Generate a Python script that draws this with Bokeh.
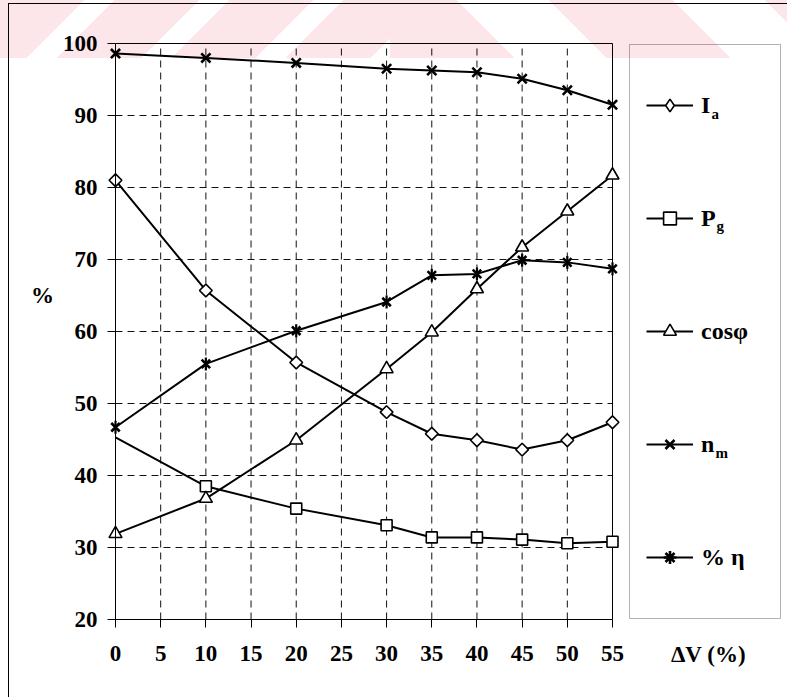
import numpy as np
from bokeh.plotting import figure
from bokeh.models import Legend, LegendItem, Label, FixedTicker, Range1d, BoxAnnotation
from bokeh.embed import file_html
from bokeh.resources import INLINE

# ---------------- data ----------------
dv = [0, 10, 20, 30, 35, 40, 45, 50, 55]
ia = [81.0, 65.7, 55.7, 48.8, 45.8, 44.9, 43.6, 44.9, 47.4]
pg = [45.3, 38.5, 35.4, 33.1, 31.4, 31.4, 31.1, 30.6, 30.8]
cosphi = [31.9, 36.8, 44.9, 54.8, 59.9, 65.9, 71.7, 76.7, 81.7]
nm = [98.6, 98.0, 97.3, 96.5, 96.25, 96.0, 95.1, 93.5, 91.5]
eta = [46.7, 55.5, 60.1, 64.1, 67.8, 68.0, 69.9, 69.6, 68.7]

x_ticks = [0, 5, 10, 15, 20, 25, 30, 35, 40, 45, 50, 55]
y_ticks = [20, 30, 40, 50, 60, 70, 80, 90, 100]
x_grid = x_ticks[1:-1]
y_grid = y_ticks[1:-1]

FONT = "Liberation Serif"

# ---------------- layout (canvas pixels) ----------------
W, H = 787, 697
PL, PR, PT, PB = 115, 612, 43, 619      # plot box edges
x0, x1 = x_ticks[0], x_ticks[-1]
y0, y1 = y_ticks[0], y_ticks[-1]
xpp = (x1 - x0) / (PR - PL)
ypp = (y1 - y0) / (PB - PT)
x_range = Range1d(x0 - PL * xpp, x1 + (W - PR) * xpp)
y_range = Range1d(y0 - (H - PB) * ypp, y1 + PT * ypp)

bg = ("linear-gradient(#000,#000) 8px 3px / 1px calc(100% - 3px) no-repeat, "
      "linear-gradient(#000,#000) 8px 3px / calc(100% - 8px) 1px no-repeat, "
      "repeating-linear-gradient(135deg, #fce6ea 0px 60px, #ffffff 60px 81px) 0px 0px / 390px 58px no-repeat, "
      "repeating-linear-gradient(45deg, #fce6ea 0px 88px, #ffffff 88px 153px) 390px 0px / 397px 58px no-repeat")

p = figure(width=W, height=H, output_backend="svg", toolbar_location=None,
           x_range=x_range, y_range=y_range, min_border=0,
           styles={"background": bg})
p.title.visible = False
p.border_fill_color = None
p.background_fill_color = None
p.outline_line_color = None
p.xgrid.visible = False
p.ygrid.visible = False

xa, ya = p.xaxis[0], p.yaxis[0]
xa.fixed_location = y0
ya.fixed_location = x0
xa.bounds = (x0, x1)
ya.bounds = (y0, y1)
for ax, ticks in ((xa, x_ticks), (ya, y_ticks)):
    ax.ticker = FixedTicker(ticks=ticks)
    ax.axis_line_color = "black"
    ax.axis_line_width = 1
    ax.major_tick_in = 0
    ax.major_tick_out = 8
    ax.major_tick_line_color = "black"
    ax.minor_tick_line_color = None
    ax.major_label_text_font = FONT
    ax.major_label_text_font_style = "bold"
    ax.major_label_text_font_size = "23px"
    ax.major_label_text_color = "black"
xa.major_label_standoff = 18
ya.major_label_standoff = 10

# dashed grid inside the plot box, from the tick lists
p.segment(x0=x_grid, y0=[y0] * len(x_grid), x1=x_grid, y1=[y1] * len(x_grid),
          line_color="#111111", line_width=1, line_dash="7 5")
p.segment(x0=[x0] * len(y_grid), y0=y_grid, x1=[x1] * len(y_grid), y1=y_grid,
          line_color="#111111", line_width=1, line_dash="7 5")
# plot box top and right edges
p.segment(x0=[x0, x1], y0=[y1, y0], x1=[x1, x1], y1=[y1, y1],
          line_color="black", line_width=1)

LW = 2
MLW = 1.6
common = dict(fill_color="white", line_color="black", line_width=MLW)

r_ia_l = p.line(dv, ia, line_color="black", line_width=LW)
p.scatter(dv, ia, marker="square", angle=np.pi / 4, size=9, **common)

r_pg_l = p.line(dv, pg, line_color="black", line_width=LW)
r_pg_m = p.scatter(dv[1:], pg[1:], marker="square", size=11, **common)

r_cos_l = p.line(dv, cosphi, line_color="black", line_width=LW)
r_cos_m = p.scatter(dv, cosphi, marker="triangle", size=13, **common)

r_nm_l = p.line(dv, nm, line_color="black", line_width=LW)
r_nm_m = p.scatter(dv, nm, marker="x", size=13, line_color="black", line_width=2.6)

r_eta_l = p.line(dv, eta, line_color="black", line_width=LW)
p.scatter(dv, eta, marker="x", size=12, line_color="black", line_width=2.6)
p.scatter(dv, eta, marker="dash", angle=np.pi / 2, size=13, line_color="black", line_width=2.2)

# legend-only glyphs (the legend draws markers unrotated); NaN = nothing in the plot
NAN = [float("nan")]
r_ia_leg = p.scatter(NAN, NAN, marker="diamond", size=14, **common)
r_eta_leg = p.scatter(NAN, NAN, marker="asterisk", size=12, line_color="black", line_width=2.6)

# legend box
p.add_layout(BoxAnnotation(left=629, right=780, top=H - 44, bottom=H - 618,
                           left_units="screen", right_units="screen",
                           top_units="screen", bottom_units="screen",
                           fill_alpha=0, line_color="black", line_width=1))

LEG_TOP = 69
legend = Legend(items=[
    LegendItem(label="I", renderers=[r_ia_l, r_ia_leg]),
    LegendItem(label="P", renderers=[r_pg_l, r_pg_m]),
    LegendItem(label="cosφ", renderers=[r_cos_l, r_cos_m]),
    LegendItem(label="n", renderers=[r_nm_l, r_nm_m]),
    LegendItem(label="% η", renderers=[r_eta_l, r_eta_leg]),
])
legend.margin = 0
legend.padding = 10
legend.spacing = 81
legend.glyph_height = 32
legend.label_height = 32
legend.glyph_width = 47
legend.label_standoff = 8
legend.border_line_color = None
legend.background_fill_alpha = 0
legend.label_text_font = FONT
legend.label_text_font_style = "bold"
legend.label_text_font_size = "24px"
legend.label_text_color = "black"
legend.label_text_baseline = "middle"
leg_h = 2 * legend.padding + 5 * legend.glyph_height + 4 * legend.spacing
legend.location = (646, H - (LEG_TOP + leg_h))
p.add_layout(legend)


def add_text(txt, cx, cy, size="23px", align="center", baseline="middle"):
    p.add_layout(Label(x=cx, y=H - cy, x_units="screen", y_units="screen",
                       text=txt, text_font=FONT, text_font_style="bold",
                       text_font_size=size, text_align=align, text_baseline=baseline,
                       text_color="black"))


add_text("%", 42, 295)
add_text("ΔV (%)", 708, 654)
# subscripts of legend labels
add_text("a", 711, 113, size="15px", align="left")
add_text("g", 716, 225, size="15px", align="left")
add_text("m", 715, 452, size="15px", align="left")

open("out.html", "w").write(file_html(p, INLINE))
